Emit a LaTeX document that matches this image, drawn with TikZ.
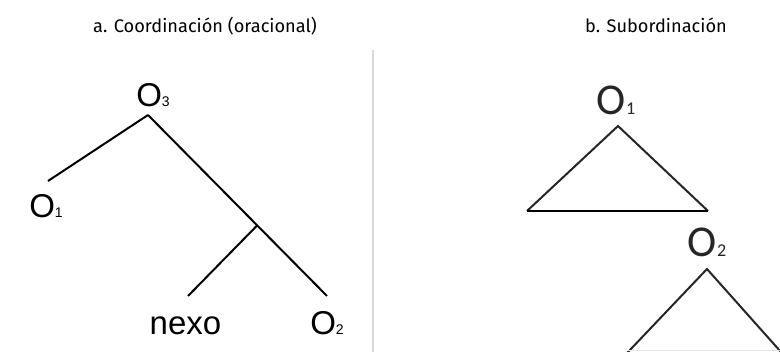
\documentclass[tikz,border=0pt]{standalone}
\usepackage{fontspec}
\usetikzlibrary{calc}
\setmainfont{Liberation Sans}
\newfontfamily\titlefont{Fira Sans}
\newfontfamily\rfont{Carlito}
\begin{document}
\begin{tikzpicture}[x=1pt,y=-1pt,
  titlestyle/.style={font=\titlefont\fontsize{18.2}{19}\selectfont, anchor=base, inner sep=0pt, text=black},
  lab/.style={font=\fontsize{33}{33}\selectfont, anchor=base, inner sep=0pt},
  rlab/.style={font=\rfont\fontsize{44}{44}\selectfont, anchor=base, inner sep=0pt, text=black!85},
  branch/.style={line width=2pt, black},
  tri/.style={line width=2pt, black!85, line join=miter},
]
\useasboundingbox (0,0) rectangle (780,352);
\clip (0,0) rectangle (780,352);
\fill[white] (0,0) rectangle (780,352);
% titles
\node[titlestyle] (ta) at (205,33) {a. Coordinación (oracional)};
\node[titlestyle] (tb) at (656,33) {b. Subordinación};
% separator
\coordinate (septop) at (373,50);
\coordinate (sepbot) at (373,352);
\draw[line width=1.6pt, black!15] (septop) -- (sepbot);
% left tree
\newcommand{\subd}[1]{{\fontsize{14}{14}\selectfont #1}}
\node[lab] (o3) at (153,106.5) {O\subd{3}};
\node[lab] (o1) at (46,218) {O\subd{1}};
\node[lab] (nexo) at (185.5,335) {nexo};
\node[lab] (o2) at (327,335) {O\subd{2}};
\coordinate (apex) at (148,115);
\coordinate (o1end) at (48,181);
\coordinate (o2end) at (327,296);
\coordinate (nexoend) at (188,296);
\coordinate (mid) at ($(apex)!0.61!(o2end)$);
\draw[branch] (apex) -- (o1end);
\draw[branch] (apex) -- (o2end);
\draw[branch] (mid) -- (nexoend);
% right tree
\newcommand{\subr}[1]{{\fontsize{18}{18}\selectfont #1}}
\node[rlab] (r1) at (616,115) {O\subr{1}};
\coordinate (t1a) at (618,126);
\coordinate (t1l) at (527,211);
\coordinate (t1r) at (708,211);
\draw[tri] (t1l) -- (t1a) -- (t1r);
\draw[line width=1.8pt, black] (t1l) -- (t1r);
\node[rlab] (r2) at (707,257) {O\subr{2}};
\coordinate (t2a) at (707,269);
\coordinate (t2l) at (619,361.5);
\coordinate (t2r) at (789,361);
\draw[tri] (t2l) -- (t2a) -- (t2r);
\coordinate (b2l) at (628,351);
\coordinate (b2r) at (780,351);
\draw[line width=1pt, black!10] (b2l) -- (b2r);
\end{tikzpicture}
\end{document}
